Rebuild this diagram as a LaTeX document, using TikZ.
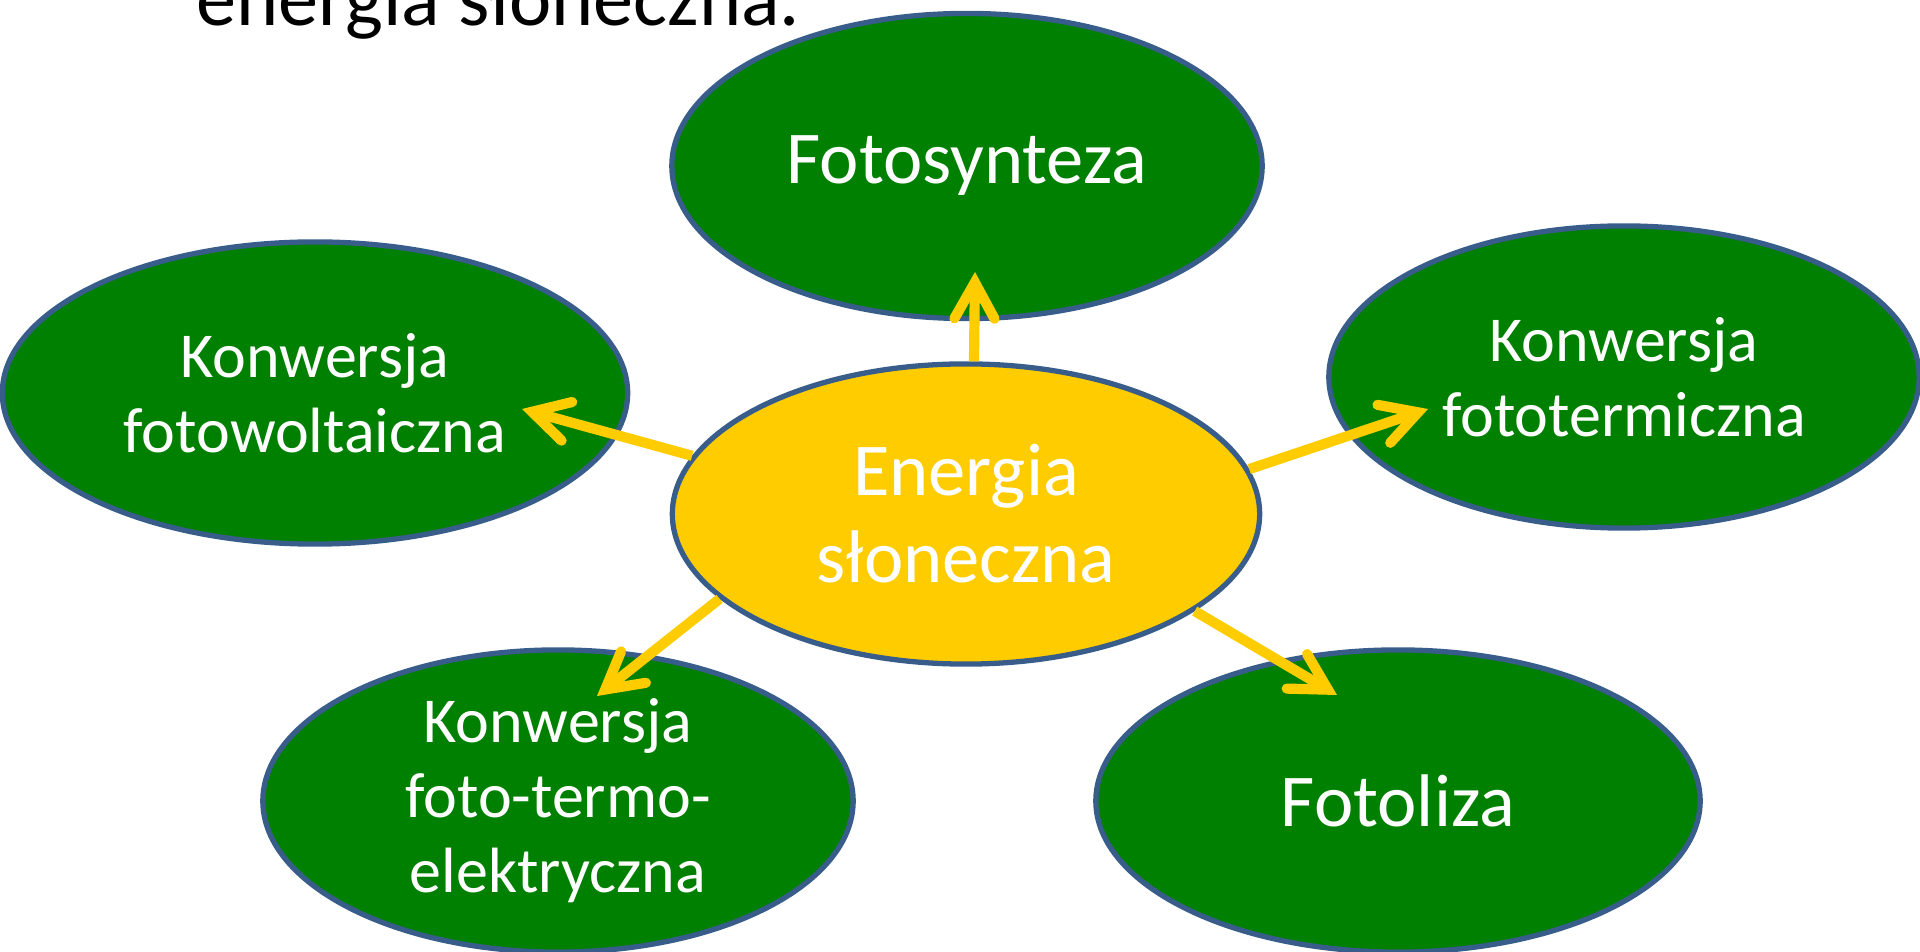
\documentclass[tikz,border=0pt]{standalone}
\usepackage{fontspec}
\setmainfont{Carlito}
\usetikzlibrary{arrows.meta, shapes.geometric}

\begin{document}
\begin{tikzpicture}[
    x=0.01cm, y=-0.01cm,
    sun_node/.style={ellipse, draw=cedge, line width=1.5pt, fill=csun, text=white,
      inner sep=0pt, align=center, font=\fontsize{21.2}{24.8}\selectfont},
    use_node/.style={sun_node, fill=cleaf},
    small_text/.style={font=\fontsize{18.2}{21.3}\selectfont},
    ray/.style={draw=csun, line width=2.9pt,
      -{Straight Barb[length=3.6mm, width=4mm, line cap=round]}}
]

  % --- Colours ---
  \definecolor{csun}{RGB}{255, 204, 0}   % yellow
  \definecolor{cleaf}{RGB}{0, 128, 0}    % green
  \definecolor{cedge}{RGB}{56, 93, 138}  % outline

  \useasboundingbox (0,0) rectangle (1920,952);
  \clip (0,0) rectangle (1920,952);

  % --- Title (cut at the top) ---
  \node[anchor=base west, inner sep=0pt, font=\fontsize{22.8}{27}\selectfont] (title) at (196,26) {energia słoneczna.};

  % --- Ellipses ---
  \node[use_node, minimum width=5.9cm, minimum height=3.05cm] (fotos) at (967,166) {Fotosynteza};
  \node[use_node, small_text, minimum width=6.25cm, minimum height=3.02cm] (pv) at (315,393) {Konwersja\\fotowoltaiczna};
  \node[use_node, small_text, minimum width=5.9cm, minimum height=3.02cm] (termo) at (1624,377) {Konwersja\\fototermiczna};
  \node[use_node, small_text, minimum width=5.9cm, minimum height=3.02cm] (fte) at (558,801) {Konwersja\\foto-termo-\\elektryczna};
  \node[use_node, minimum width=6.04cm, minimum height=3.02cm] (liza) at (1398,801) {Fotoliza};
  \node[sun_node, minimum width=5.87cm, minimum height=3.0cm] (sun) at (966,514) {Energia\\słoneczna};

  % --- Arrow tips ---
  \coordinate (tip_up) at (975,272);
  \coordinate (tip_pv) at (522,409);
  \coordinate (tip_termo) at (1428,409);
  \coordinate (tip_fte) at (597,696);
  \coordinate (tip_liza) at (1337,695);

  % --- Arrows ---
  \draw[ray] (sun.87) -- (tip_up);
  \draw[ray] (sun.168.8) -- (tip_pv);
  \draw[ray] (sun.9.1) -- (tip_termo);
  \draw[ray] (sun.199.3) -- (tip_fte);
  \draw[ray] (sun.337.3) -- (tip_liza);

\end{tikzpicture}
\end{document}
